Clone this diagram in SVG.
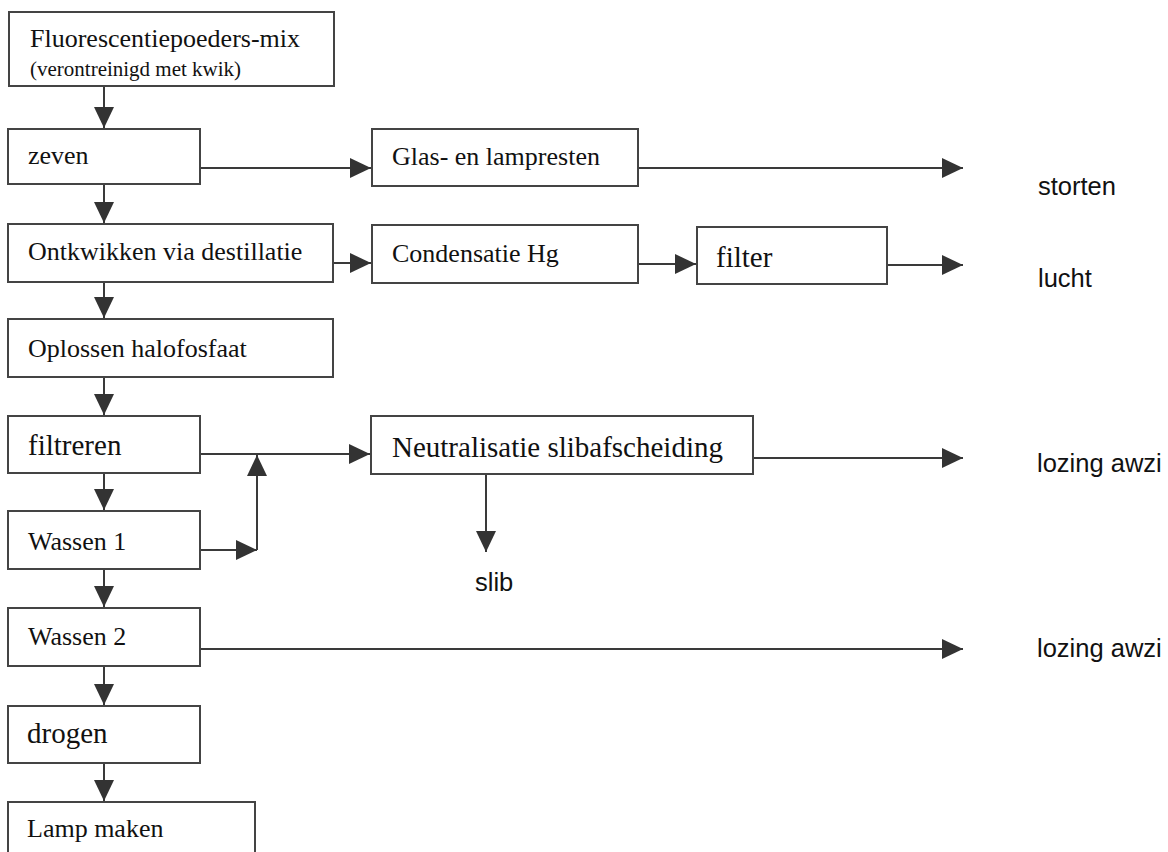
<svg xmlns="http://www.w3.org/2000/svg" width="1168" height="852" viewBox="0 0 1168 852">
<style>
.box{fill:#fff;stroke:#444;stroke-width:2}
.t{font-family:"Liberation Serif","Times New Roman",serif;font-size:26px;fill:#111}
.tl{font-family:"Liberation Serif","Times New Roman",serif;font-size:29px;fill:#111}
.ts{font-family:"Liberation Serif","Times New Roman",serif;font-size:21px;fill:#111}
.lab{font-family:"Liberation Sans",Arial,sans-serif;font-size:25.5px;fill:#111}
.c{fill:none;stroke:#3a3a3a;stroke-width:2}
</style>
<defs>
<marker id="ah" markerUnits="userSpaceOnUse" markerWidth="22" markerHeight="22" refX="21" refY="10" orient="auto" viewBox="0 0 22 20">
<path d="M0,0 L21,10 L0,20 z" fill="#333"/>
</marker>
</defs>
<rect width="1168" height="852" fill="#fff"/>
<g id="connectors">
<line class="c" x1="104" y1="86" x2="104" y2="128" marker-end="url(#ah)"/>
<line class="c" x1="200" y1="168" x2="371" y2="168" marker-end="url(#ah)"/>
<line class="c" x1="104" y1="184" x2="104" y2="223" marker-end="url(#ah)"/>
<line class="c" x1="333" y1="263" x2="371" y2="263" marker-end="url(#ah)"/>
<line class="c" x1="104" y1="282" x2="104" y2="318" marker-end="url(#ah)"/>
<line class="c" x1="638" y1="168" x2="963" y2="168" marker-end="url(#ah)"/>
<line class="c" x1="638" y1="264" x2="696" y2="264" marker-end="url(#ah)"/>
<line class="c" x1="887" y1="265" x2="963" y2="265" marker-end="url(#ah)"/>
<line class="c" x1="104" y1="377" x2="104" y2="415" marker-end="url(#ah)"/>
<line class="c" x1="200" y1="454" x2="370" y2="454" marker-end="url(#ah)"/>
<line class="c" x1="104" y1="473" x2="104" y2="510" marker-end="url(#ah)"/>
<line class="c" x1="200" y1="550" x2="257" y2="550" marker-end="url(#ah)"/>
<line class="c" x1="257" y1="550" x2="257" y2="455" marker-end="url(#ah)"/>
<line class="c" x1="753" y1="458" x2="963" y2="458" marker-end="url(#ah)"/>
<line class="c" x1="486" y1="474" x2="486" y2="552" marker-end="url(#ah)"/>
<line class="c" x1="104" y1="569" x2="104" y2="607" marker-end="url(#ah)"/>
<line class="c" x1="200" y1="649" x2="963" y2="649" marker-end="url(#ah)"/>
<line class="c" x1="104" y1="666" x2="104" y2="705" marker-end="url(#ah)"/>
<line class="c" x1="104" y1="763" x2="104" y2="801" marker-end="url(#ah)"/>
</g>
<g id="n-mix">
<rect class="box" x="9" y="12" width="325" height="74"/>
<text class="t" x="30" y="47">Fluorescentiepoeders-mix</text>
<text class="ts" x="30" y="76">(verontreinigd met kwik)</text>
</g>
<g id="n-zeven"><rect class="box" x="8" y="129" width="192" height="55"/><text class="t" x="28" y="164">zeven</text></g>
<g id="n-ontkwikken"><rect class="box" x="8" y="224" width="325" height="58"/><text class="t" x="28" y="260">Ontkwikken via destillatie</text></g>
<g id="n-oplossen"><rect class="box" x="8" y="319" width="325" height="58"/><text class="t" x="28" y="357">Oplossen halofosfaat</text></g>
<g id="n-filtreren"><rect class="box" x="8" y="416" width="192" height="57"/><text class="tl" x="28" y="455">filtreren</text></g>
<g id="n-wassen1"><rect class="box" x="8" y="511" width="192" height="58"/><text class="t" x="28" y="550">Wassen 1</text></g>
<g id="n-wassen2"><rect class="box" x="8" y="608" width="192" height="58"/><text class="t" x="28" y="645">Wassen 2</text></g>
<g id="n-drogen"><rect class="box" x="8" y="706" width="192" height="57"/><text class="tl" x="27" y="743">drogen</text></g>
<g id="n-lamp"><rect class="box" x="8" y="802" width="247" height="62"/><text class="t" x="27" y="837">Lamp maken</text></g>
<g id="n-glas"><rect class="box" x="372" y="129" width="266" height="57"/><text class="t" x="392" y="165">Glas- en lampresten</text></g>
<g id="n-condensatie"><rect class="box" x="372" y="225" width="266" height="58"/><text class="t" x="392" y="262">Condensatie Hg</text></g>
<g id="n-filter"><rect class="box" x="697" y="227" width="190" height="57"/><text class="tl" x="716" y="267">filter</text></g>
<g id="n-neutralisatie"><rect class="box" x="371" y="416" width="382" height="58"/><text class="tl" x="392" y="457">Neutralisatie slibafscheiding</text></g>
<g id="labels">
<text class="lab" x="1038" y="195">storten</text>
<text class="lab" x="1038" y="287">lucht</text>
<text class="lab" x="1037" y="472">lozing awzi</text>
<text class="lab" x="475" y="591">slib</text>
<text class="lab" x="1037" y="657">lozing awzi</text>
</g>
</svg>
